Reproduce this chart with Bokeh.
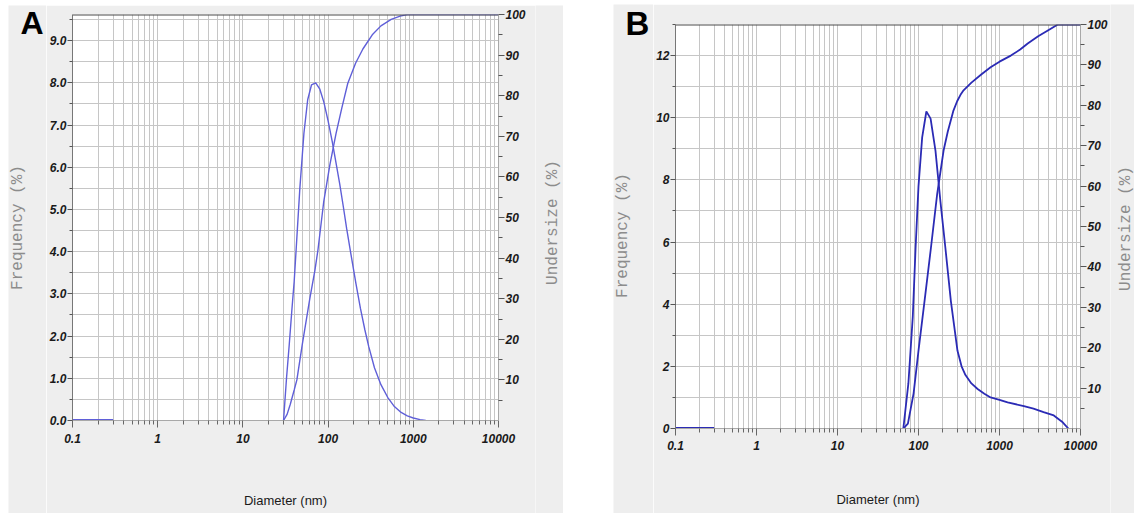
import math
from bokeh.plotting import figure
from bokeh.models import (Range1d, LinearAxis, FixedTicker, CustomJSTickFormatter,
                          Span, Spacer)
from bokeh.core.properties import value
from bokeh.layouts import row, column
from bokeh.embed import file_html
from bokeh.resources import INLINE

# ---------------- data ----------------
x_major = [0.1, 1, 10, 100, 1000, 10000]
x_minor = [k * 10.0 ** e for e in range(-1, 4) for k in range(2, 10)]

zero_d = [0.1, 0.3]
zero_v = [0.0, 0.0]

# Panel A  (diameter nm, frequency %, undersize %)
a_freq_d = [30, 32.5, 35, 37.5, 40, 42, 46.6, 52, 57.6, 63.8, 71.5, 80, 89, 100, 112, 124,
            137, 150, 165, 185, 212, 240, 270, 300, 350, 417, 500, 600, 720, 850,
            1000, 1200, 1400]
a_freq_v = [0.0, 1.0, 1.8, 2.6, 3.3, 4.0, 5.5, 6.8, 7.6, 7.95, 8.0, 7.85, 7.55, 7.1,
            6.6, 6.1, 5.6, 5.1, 4.55, 3.95, 3.25, 2.65, 2.15, 1.75, 1.25, 0.85,
            0.55, 0.33, 0.19, 0.11, 0.06, 0.02, 0.0]
a_und_d = [30, 33, 36, 40, 43, 50, 61, 70, 76, 89, 105, 124, 145, 170, 210, 256, 330,
           417, 550, 700, 850, 1000, 10000]
a_und_v = [0, 1.5, 4.0, 7.5, 10, 19, 30, 37, 42, 54, 63, 70.7, 77, 83, 88, 91.5, 95,
           97.2, 98.8, 99.6, 100, 100, 100]
a_left_ticks = [0, 1, 2, 3, 4, 5, 6, 7, 8, 9]
a_left_minor = [0.5, 1.5, 2.5, 3.5, 4.5, 5.5, 6.5, 7.5, 8.5, 9.5]
a_left_max = 9.62

# Panel B
b_freq_d = [65, 75, 85, 92, 100, 111, 125, 132, 141, 162, 186, 215, 251, 303, 340, 380,
            450, 537, 650, 776, 1000, 1260, 2000, 2630, 3500, 4680, 6030, 7080]
b_freq_v = [0, 1.45, 3.6, 5.8, 7.8, 9.37, 10.2, 10.1, 9.97, 8.94, 7.33, 5.8, 4.1, 2.5,
            2.0, 1.72, 1.45, 1.27, 1.12, 1.0, 0.92, 0.84, 0.72, 0.64, 0.53, 0.42,
            0.2, 0.0]
b_und_d = [65, 74, 87, 100, 119, 141, 170, 204, 230, 270, 300, 330, 360, 450, 600, 776,
           1000, 1380, 1800, 2230, 3000, 4000, 5250, 10000]
b_und_v = [0, 1.2, 8.7, 19.3, 31.7, 44, 58, 68.8, 73.5, 78.7, 81, 82.6, 83.7, 85.6,
           87.7, 89.4, 90.8, 92.3, 93.8, 95.3, 97.1, 98.6, 100, 100]
b_left_ticks = [0, 2, 4, 6, 8, 10, 12]
b_left_minor = [1, 3, 5, 7, 9, 11, 13]
b_left_max = 13.0

pct_major = [10, 20, 30, 40, 50, 60, 70, 80, 90, 100]
pct_minor = [5, 15, 25, 35, 45, 55, 65, 75, 85, 95]

TICK_FONT = "Liberation Sans"
MONO = "Liberation Mono"
TITLE_COLOR = "#8c8c8c"
BG = "#eeeeee"
GRID = "#c6c6c6"


def make_panel(width, height, ml, mr, mt, mb, left_max, left_ticks, left_minor, left_fmt,
               freq_d, freq_v, und_d, und_v, line_color, line_w, xlab_standoff,
               xtick_standoff):
    p = figure(width=width, height=height, x_axis_type="log",
               x_range=Range1d(0.1, 10000), y_range=Range1d(0, left_max),
               output_backend="svg", toolbar_location=None, title=None,
               min_border_left=ml, min_border_right=mr, min_border_top=mt,
               min_border_bottom=mb, background_fill_color="white",
               border_fill_color=BG, outline_line_color=None, frame_align=False)
    p.extra_y_ranges = {"pct": Range1d(0, 100)}

    xa = p.xaxis[0]
    xa.ticker = FixedTicker(ticks=x_major, minor_ticks=x_minor)
    xa.formatter = CustomJSTickFormatter(
        code="return tick < 1 ? tick.toFixed(1) : tick.toFixed(0);")
    xa.major_label_text_font = TICK_FONT
    xa.major_label_text_font_style = "bold italic"
    xa.major_label_text_font_size = "12px"
    xa.major_label_text_color = "#1a1a1a"
    xa.major_label_standoff = xtick_standoff
    xa.major_tick_out = 7
    xa.major_tick_in = 0
    xa.minor_tick_out = 4
    xa.minor_tick_in = 0
    xa.major_tick_line_color = "#666666"
    xa.minor_tick_line_color = "#666666"
    xa.axis_line_color = "#a8a8a8"
    xa.axis_label = "Diameter (nm)"
    xa.axis_label_text_font = TICK_FONT
    xa.axis_label_text_font_style = "normal"
    xa.axis_label_text_font_size = "13px"
    xa.axis_label_text_color = "#1a1a1a"
    xa.axis_label_standoff = xlab_standoff

    ya = p.yaxis[0]
    ya.ticker = FixedTicker(ticks=left_ticks, minor_ticks=left_minor)
    ya.formatter = CustomJSTickFormatter(code=left_fmt)
    ya.major_label_text_font = TICK_FONT
    ya.major_label_text_font_style = "bold italic"
    ya.major_label_text_font_size = "12px"
    ya.major_label_text_color = "#1a1a1a"
    ya.major_label_standoff = 1
    ya.major_tick_out = 5
    ya.major_tick_in = 0
    ya.minor_tick_out = 3
    ya.minor_tick_in = 0
    ya.major_tick_line_color = "#555555"
    ya.minor_tick_line_color = "#555555"
    ya.axis_line_color = "#777777"

    ra = LinearAxis(y_range_name="pct",
                    ticker=FixedTicker(ticks=pct_major, minor_ticks=pct_minor))
    ra.formatter = CustomJSTickFormatter(code="return tick.toFixed(0);")
    ra.major_label_text_font = TICK_FONT
    ra.major_label_text_font_style = "bold italic"
    ra.major_label_text_font_size = "12px"
    ra.major_label_text_color = "#1a1a1a"
    ra.major_label_standoff = 1
    ra.major_tick_out = 6
    ra.major_tick_in = 0
    ra.minor_tick_out = 4
    ra.minor_tick_in = 0
    ra.major_tick_line_color = "#555555"
    ra.minor_tick_line_color = "#555555"
    ra.axis_line_color = "#a8a8a8"
    p.add_layout(ra, "right")

    for g in (p.xgrid[0], p.ygrid[0]):
        g.grid_line_color = GRID
        g.minor_grid_line_color = GRID
        g.grid_line_width = 1
        g.minor_grid_line_width = 1

    p.add_layout(Span(location=100, dimension="width", y_range_name="pct",
                      line_color="#4a4a4a", line_width=2))

    p.line(zero_d, zero_v, line_color=line_color, line_width=3)
    p.line(freq_d, freq_v, line_color=line_color, line_width=line_w)
    p.line(und_d, und_v, line_color=line_color, line_width=line_w, y_range_name="pct")
    return p


def make_strip(width, height, top, texts):
    """Narrow gray strip holding a panel letter / rotated axis titles.
    Positions are given in page pixels (y from page top); top = strip's page top."""
    s = figure(width=width, height=height, x_range=Range1d(0, width),
               y_range=Range1d(0, height), output_backend="svg",
               toolbar_location=None, title=None,
               x_axis_location=None, y_axis_location=None,
               min_border_left=0, min_border_right=0, min_border_top=0,
               min_border_bottom=0, background_fill_color=BG, border_fill_color=BG,
               outline_line_color=None, frame_align=False)
    s.grid.visible = False
    for (tx, ty, t, font, size, style, color, ang, align, base) in texts:
        s.text(x=[tx], y=[height - (ty - top)], text=[t], text_font=value(font),
               text_font_size=size, text_font_style=style, text_color=color,
               angle=ang, text_align=align, text_baseline=base)
    return s


# ---- Panel A: page x 8..46 strip, 46..535 plot, 535..563 strip; y 5..513
HA, TOPA = 508, 5
stripA_l = make_strip(38, HA, TOPA, [
    (12, 22, "A", TICK_FONT, "32px", "bold", "black", 0, "left", "alphabetic"),
    (9, 227, "Frequency (%)", MONO, "16px", "normal", TITLE_COLOR, math.pi / 2,
     "center", "middle"),
])
pa = make_panel(489, HA, 25, 37, 9, 93, a_left_max, a_left_ticks, a_left_minor,
                "return tick.toFixed(1);", a_freq_d, a_freq_v, a_und_d, a_und_v,
                "#5f5fd8", 1.4, 47, 6)
stripA_r = make_strip(28, HA, TOPA, [
    (17, 222, "Undersize (%)", MONO, "16px", "normal", TITLE_COLOR, math.pi / 2,
     "center", "middle"),
])

# ---- Panel B: page x 613..653 strip, 653..1110 plot, 1110..1134 strip; y 4..513
HB, TOPB = 509, 4
stripB_l = make_strip(40, HB, TOPB, [
    (12, 23, "B", TICK_FONT, "33px", "bold", "black", 0, "left", "alphabetic"),
    (9, 235, "Frequency (%)", MONO, "16px", "normal", TITLE_COLOR, math.pi / 2,
     "center", "middle"),
])
pb = make_panel(457, HB, 22, 30, 20, 85, b_left_max, b_left_ticks, b_left_minor,
                "return tick.toFixed(0);", b_freq_d, b_freq_v, b_und_d, b_und_v,
                "#2b2bb5", 1.8, 39, 5)
stripB_r = make_strip(24, HB, TOPB, [
    (15, 228, "Undersize (%)", MONO, "16px", "normal", TITLE_COLOR, math.pi / 2,
     "center", "middle"),
])

colA = column(Spacer(width=555, height=TOPA), row(stripA_l, pa, stripA_r))
colB = column(Spacer(width=521, height=TOPB), row(stripB_l, pb, stripB_r))
layout = row(Spacer(width=8, height=513), colA, Spacer(width=50, height=513), colB)

open("out.html", "w").write(file_html(layout, INLINE))
